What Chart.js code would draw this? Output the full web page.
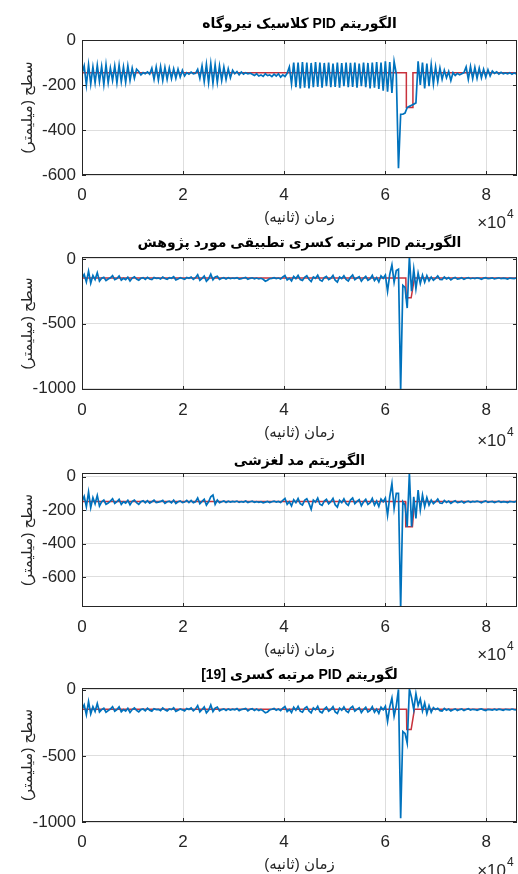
<!DOCTYPE html>
<html><head><meta charset="utf-8">
<script src="https://cdn.jsdelivr.net/npm/chart.js@4.4.1/dist/chart.umd.min.js"></script>
<style>
html,body{margin:0;padding:0;background:#fff;width:518px;height:874px;overflow:hidden;position:relative}
canvas{position:absolute;left:0}
</style></head><body>
<canvas id="c1" width="518" height="231" style="top:0px"></canvas>
<canvas id="c2" width="518" height="229" style="top:217px"></canvas>
<canvas id="c3" width="518" height="230" style="top:433px"></canvas>
<canvas id="c4" width="518" height="230" style="top:648px"></canvas>
<script>
// ---- data ----
const SAMPLE_STEP = 432; // seconds between samples
const titles = [
  'الگوریتم PID کلاسیک نیروگاه',
  'الگوریتم PID مرتبه کسری تطبیقی مورد پژوهش',
  'الگوریتم مد لغزشی',
  'لگوریتم PID مرتبه کسری [19]'
];
const xLabel = 'زمان (ثانیه)';
const yLabel = 'سطح (میلیمتر)';
const xExponent = '4';
const xTicks = [0, 20000, 40000, 60000, 80000];
const yTicks1 = [-600, -400, -200, 0];
const yTicks2 = [-1000, -500, 0];
const yTicks3 = [-600, -400, -200, 0];
const yTicks4 = [-1000, -500, 0];

const level1 = [
-150,-115,-200,-110,-195,-120,-190,-112,-185,-118,
-198,-110,-190,-125,-180,-115,-190,-112,-185,-120,
-188,-115,-180,-125,-170,-130,-140,-155,-145,-150,
-142,-152,-125,-175,-120,-178,-118,-180,-122,-175,
-125,-172,-128,-170,-130,-165,-135,-160,-145,-152,
-143,-150,-148,-130,-170,-115,-185,-108,-190,-105,
-192,-110,-188,-115,-180,-120,-175,-128,-168,-135,
-150,-140,-155,-142,-152,-145,-150,-147,-152,-158,
-150,-160,-155,-162,-150,-158,-155,-163,-152,-160,
-150,-165,-155,-162,-148,-120,-195,-100,-210,-100,
-215,-98,-212,-100,-215,-102,-210,-98,-208,-100,
-212,-102,-205,-100,-210,-105,-208,-100,-212,-103,
-205,-100,-210,-102,-208,-100,-212,-105,-205,-100,
-210,-102,-215,-100,-212,-98,-218,-100,-225,-95,
-230,-98,-235,-95,-150,-570,-330,-330,-325,-300,
-295,-290,-285,-280,-95,-200,-100,-215,-105,-205,
-110,-195,-120,-185,-125,-175,-135,-168,-140,-180,
-145,-158,-148,-155,-150,-145,-120,-175,-118,-172,
-122,-170,-125,-168,-130,-165,-132,-160,-138,-148,
-142,-152,-144,-150,-146,-150,-145,-152,-146,-150,
-148];
const ref1T = [0, 64200, 64200, 65500, 65500, 86400];
const ref1Y = [-145, -145, -300, -300, -145, -145];

const level2 = [
-150,-120,-178,-95,-188,-128,-160,-108,-172,-150,
-142,-168,-156,-146,-130,-160,-152,-132,-165,-150,
-160,-142,-170,-148,-138,-156,-165,-150,-145,-158,
-142,-155,-160,-144,-150,-148,-156,-140,-152,-158,
-146,-150,-138,-162,-155,-146,-152,-158,-144,-150,
-140,-158,-145,-122,-165,-150,-132,-172,-155,-118,
-162,-140,-135,-158,-150,-145,-155,-146,-152,-148,
-150,-145,-156,-152,-148,-144,-158,-150,-146,-154,
-148,-155,-150,-158,-172,-165,-152,-150,-145,-152,
-148,-156,-140,-128,-162,-150,-170,-135,-152,-128,
-160,-166,-142,-130,-158,-175,-140,-150,-126,-162,
-172,-145,-135,-160,-150,-128,-165,-180,-140,-152,
-130,-158,-170,-142,-125,-160,-148,-138,-172,-150,
-135,-165,-155,-128,-168,-145,-178,-132,-150,-125,
-250,-120,-46,-180,-90,-80,-1012,-205,-220,-379,
14,-250,-80,-230,-110,-190,-125,-180,-130,-170,
-140,-165,-150,-132,-158,-160,-140,-155,-145,-162,
-150,-143,-156,-152,-146,-158,-150,-145,-153,-148,
-152,-146,-150,-157,-149,-145,-153,-151,-147,-155,
-150,-146,-153,-149,-151,-156,-148,-150,-153,-147,
-150];
const ref2T = [0, 64100, 64150, 65150, 65800, 86400];
const ref2Y = [-148, -148, -300, -300, -148, -148];

const level3 = [
-150,-118,-180,-92,-185,-125,-162,-112,-175,-150,
-140,-165,-158,-146,-132,-160,-150,-136,-166,-150,
-158,-142,-168,-148,-140,-156,-166,-150,-144,-156,
-144,-158,-150,-140,-155,-152,-148,-142,-160,-150,
-147,-156,-140,-160,-150,-145,-155,-152,-142,-155,
-142,-156,-150,-128,-162,-148,-135,-170,-150,-120,
-110,-165,-140,-156,-150,-145,-154,-147,-152,-148,
-151,-146,-154,-149,-152,-146,-155,-150,-147,-153,
-149,-154,-150,-156,-152,-148,-155,-150,-146,-152,
-148,-155,-142,-130,-166,-150,-175,-138,-155,-130,
-162,-170,-142,-132,-160,-195,-140,-152,-128,-165,
-172,-146,-136,-162,-150,-130,-168,-182,-142,-155,
-132,-160,-172,-140,-128,-162,-148,-138,-174,-150,
-136,-166,-156,-130,-170,-146,-178,-134,-150,-128,
-231,-120,-41,-190,-100,-100,-790,-150,-170,-300,
22,-300,-120,-250,-80,-200,-110,-180,-125,-170,
-140,-162,-150,-134,-158,-160,-142,-154,-146,-160,
-150,-144,-155,-152,-147,-157,-150,-146,-153,-148,
-151,-147,-150,-156,-149,-145,-154,-150,-148,-155,
-150,-147,-153,-149,-151,-155,-148,-150,-152,-147,
-150];
const ref3T = [0, 64030, 64080, 65400, 65800, 86400];
const ref3Y = [-148, -148, -300, -300, -148, -148];

const level4 = [
-150,-115,-190,-90,-182,-128,-165,-105,-168,-150,
-140,-170,-158,-146,-128,-162,-150,-130,-166,-150,
-162,-140,-172,-150,-138,-156,-168,-150,-146,-160,
-140,-155,-162,-144,-150,-148,-158,-138,-152,-160,
-146,-150,-136,-164,-155,-146,-152,-160,-142,-150,
-138,-160,-146,-120,-168,-150,-130,-175,-155,-115,
-165,-140,-132,-160,-150,-145,-156,-145,-154,-147,
-152,-143,-158,-150,-146,-142,-160,-148,-144,-156,
-146,-158,-150,-160,-175,-168,-152,-148,-142,-155,
-146,-158,-140,-128,-165,-150,-172,-132,-155,-126,
-162,-170,-140,-128,-160,-175,-138,-152,-126,-165,
-174,-146,-132,-162,-150,-128,-168,-180,-140,-155,
-130,-160,-172,-138,-126,-162,-148,-136,-172,-150,
-132,-168,-156,-128,-170,-146,-178,-132,-152,-125,
-240,-130,-63,-200,-120,2,-972,-316,-330,-404,
5,-60,-150,-30,-120,-70,-160,-100,-180,-120,
-170,-135,-150,-140,-158,-162,-142,-155,-146,-160,
-152,-145,-157,-150,-146,-158,-150,-144,-153,-148,
-150,-156,-149,-145,-152,-157,-148,-150,-154,-147,
-154,-147,-151,-156,-148,-150,-153,-146,-150,-152,
-151];
const ref4T = [0, 64230, 64280, 65150, 65800, 86400];
const ref4Y = [-148, -148, -300, -300, -148, -148];

// ---- layout / style (not data) ----
const panels = [
  {id:'c1', level:level1, refT:ref1T, refY:ref1Y, yTicks:yTicks1, yMin:-600, yMax:0, titlePad:{top:15.6,bottom:7.6}, expOff:53},
  {id:'c2', level:level2, refT:ref2T, refY:ref2Y, yTicks:yTicks2, yMin:-1010, yMax:14, titlePad:{top:17.6,bottom:5.6}, expOff:56},
  {id:'c3', level:level3, refT:ref3T, refY:ref3Y, yTicks:yTicks3, yMin:-780, yMax:22, titlePad:{top:19.6,bottom:3.6}, expOff:53},
  {id:'c4', level:level4, refT:ref4T, refY:ref4Y, yTicks:yTicks4, yMin:-1000, yMax:13, titlePad:{top:18.6,bottom:4.6}, expOff:54}
];
const FAMILY = '"Liberation Sans", "DejaVu Sans", Arial, sans-serif';
const TEXT = '#262626';
const RTL = s => '\u202B' + s + '\u202C';

Chart.defaults.font.family = FAMILY;
Chart.defaults.color = TEXT;

const framePlugin = {
  id: 'frame',
  afterDraw(chart, args, opts) {
    const {ctx, chartArea: a, scales: {x, y}} = chart;
    ctx.save();
    ctx.strokeStyle = TEXT;
    ctx.lineWidth = 1;
    ctx.strokeRect(a.left + 0.5, a.top + 0.5, a.right - a.left - 1, a.bottom - a.top - 1);
    const L = 4;
    ctx.beginPath();
    x.ticks.forEach(t => {
      const p = Math.round(x.getPixelForValue(t.value)) + 0.5;
      ctx.moveTo(p, a.top); ctx.lineTo(p, a.top + L);
      ctx.moveTo(p, a.bottom); ctx.lineTo(p, a.bottom - L);
    });
    y.ticks.forEach(t => {
      const p = Math.round(y.getPixelForValue(t.value)) + 0.5;
      ctx.moveTo(a.left, p); ctx.lineTo(a.left + L, p);
      ctx.moveTo(a.right, p); ctx.lineTo(a.right - L, p);
    });
    ctx.stroke();
    ctx.fillStyle = TEXT;
    ctx.textBaseline = 'alphabetic';
    ctx.font = '17px ' + FAMILY;
    ctx.textAlign = 'right';
    ctx.fillText('×10', 506, a.bottom + opts.expOff);
    ctx.font = '12px ' + FAMILY;
    ctx.textAlign = 'left';
    ctx.fillText(xExponent, 507, a.bottom + opts.expOff - 10);
    ctx.restore();
  }
};

panels.forEach((p, k) => {
  const blue = p.level.map((v, i) => ({x: i * SAMPLE_STEP, y: v}));
  const red = p.refT.map((t, i) => ({x: t, y: p.refY[i]}));
  new Chart(document.getElementById(p.id), {
    type: 'line',
    data: {datasets: [
      {data: blue, borderColor: '#0072BD', borderWidth: 1.7, pointRadius: 0, tension: 0, clip: 0},
      {data: red, borderColor: '#C8323C', borderWidth: 1.5, pointRadius: 0, tension: 0, clip: 0}
    ]},
    options: {
      responsive: false, animation: false, parsing: false, normalized: true,
      layout: {padding: {left: 0, right: 1, top: 0, bottom: 0}},
      plugins: {
        legend: {display: false}, tooltip: {enabled: false},
        title: {display: true, text: RTL(titles[k]), fullSize: false, color: '#000',
                font: {size: 14, weight: 'bold', family: FAMILY, lineHeight: 1.2}, padding: p.titlePad},
        frame: {expOff: p.expOff}
      },
      scales: {
        x: {type: 'linear', min: 0, max: 86100,
            afterFit: s => { s.height = 56; },
            afterBuildTicks: s => { s.ticks = xTicks.map(v => ({value: v})); },
            grid: {color: 'rgba(0,0,0,0.13)', drawTicks: false},
            border: {display: false},
            ticks: {padding: 10, maxRotation: 0, autoSkip: false,
                    font: {size: 17}, color: TEXT, callback: v => String(v / 10000)},
            title: {display: true, text: RTL(xLabel), font: {size: 15}, color: TEXT, padding: {top: 0, bottom: 4}}},
        y: {type: 'linear', min: p.yMin, max: p.yMax,
            afterFit: s => { s.width = 82; },
            afterBuildTicks: s => { s.ticks = p.yTicks.map(v => ({value: v})); },
            grid: {color: 'rgba(0,0,0,0.13)', drawTicks: false},
            border: {display: false},
            ticks: {padding: 6, autoSkip: false, font: {size: 17}, color: TEXT, callback: v => String(v)},
            title: {display: true, text: RTL(yLabel), font: {size: 15}, color: TEXT, padding: {top: 19, bottom: 0}}}
      }
    },
    plugins: [framePlugin]
  });
});
</script>
</body></html>
